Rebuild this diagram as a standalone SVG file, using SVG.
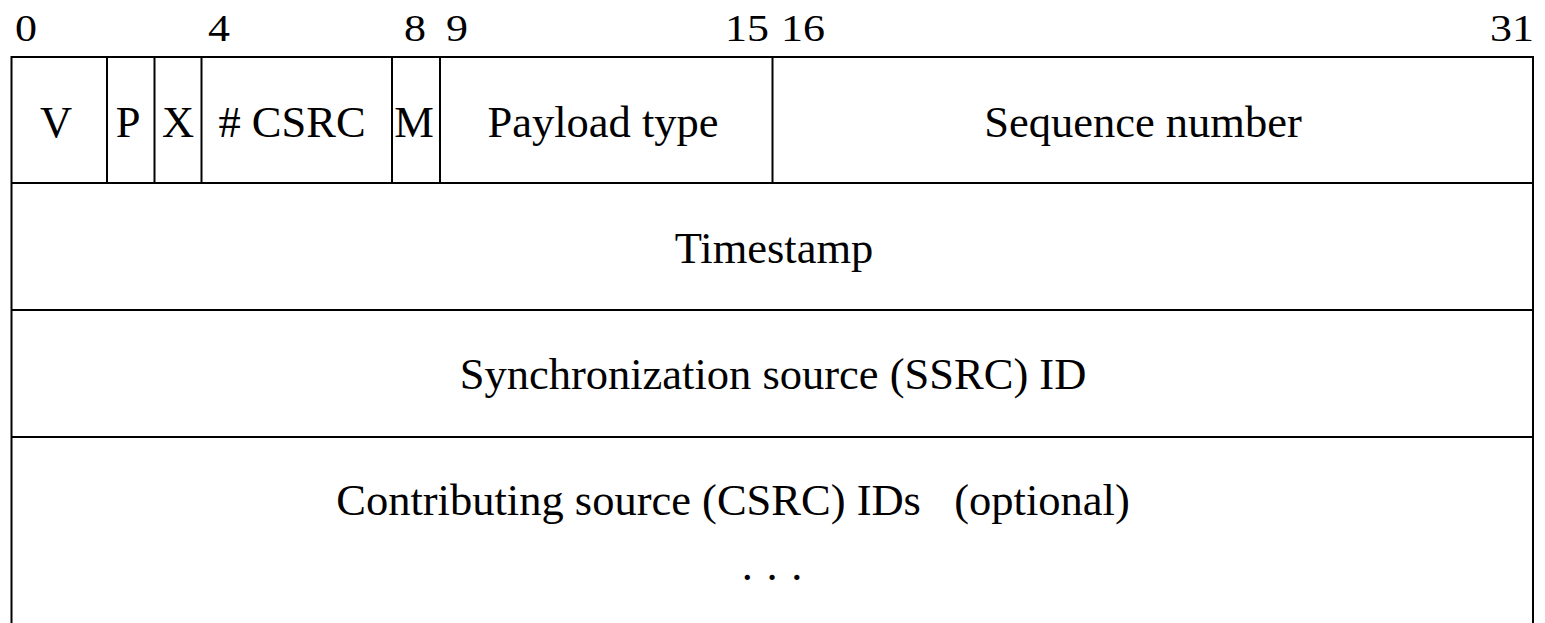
<svg xmlns="http://www.w3.org/2000/svg" width="1545" height="623" viewBox="0 0 1545 623">
<style>
  .ln { stroke: #000; stroke-width: 2; fill: none; }
  .f { font-family: "Liberation Serif", "Times New Roman", serif; font-size: 44.5px; fill: #000; text-anchor: middle; }
  .n { font-family: "Liberation Serif", "Times New Roman", serif; font-size: 44px; fill: #000; }
</style>
<rect width="1545" height="623" fill="#fff"/>
<g id="bit-labels" transform="translate(0,41) scale(1,0.87)">
  <text class="n" x="15" y="0">0</text>
  <text class="n" x="208" y="0">4</text>
  <text class="n" x="404" y="0">8</text>
  <text class="n" x="446" y="0">9</text>
  <text class="n" x="725" y="0">15</text>
  <text class="n" x="781" y="0">16</text>
  <text class="n" x="1490" y="0">31</text>
</g>
<g id="frame">
  <path class="ln" d="M11.5,640 V57 H1533 V640"/>
  <line class="ln" x1="11.5" y1="183" x2="1533" y2="183"/>
  <line class="ln" x1="11.5" y1="310" x2="1533" y2="310"/>
  <line class="ln" x1="11.5" y1="437" x2="1533" y2="437"/>
</g>
<g id="dividers">
  <line class="ln" x1="107" y1="57" x2="107" y2="183"/>
  <line class="ln" x1="154.5" y1="57" x2="154.5" y2="183"/>
  <line class="ln" x1="201.5" y1="57" x2="201.5" y2="183"/>
  <line class="ln" x1="392" y1="57" x2="392" y2="183"/>
  <line class="ln" x1="440" y1="57" x2="440" y2="183"/>
  <line class="ln" x1="772.5" y1="57" x2="772.5" y2="183"/>
</g>
<g id="field-V"><text class="f" x="56" y="137">V</text></g>
<g id="field-P"><text class="f" x="128" y="137">P</text></g>
<g id="field-X"><text class="f" x="178" y="137">X</text></g>
<g id="field-CSRC"><text class="f" x="292" y="137"># CSRC</text></g>
<g id="field-M"><text class="f" x="414" y="137">M</text></g>
<g id="field-PT"><text class="f" x="603" y="137">Payload type</text></g>
<g id="field-SEQ"><text class="f" x="1143" y="137">Sequence number</text></g>
<g id="field-TS"><text class="f" x="774" y="263">Timestamp</text></g>
<g id="field-SSRC"><text class="f" x="773" y="389">Synchronization source (SSRC) ID</text></g>
<g id="field-CSRCIDs">
  <text class="f" x="733" y="515" xml:space="preserve">Contributing source (CSRC) IDs   (optional)</text>
  <text class="f" x="772" y="580" word-spacing="2.5" xml:space="preserve">. . .</text>
</g>
</svg>
